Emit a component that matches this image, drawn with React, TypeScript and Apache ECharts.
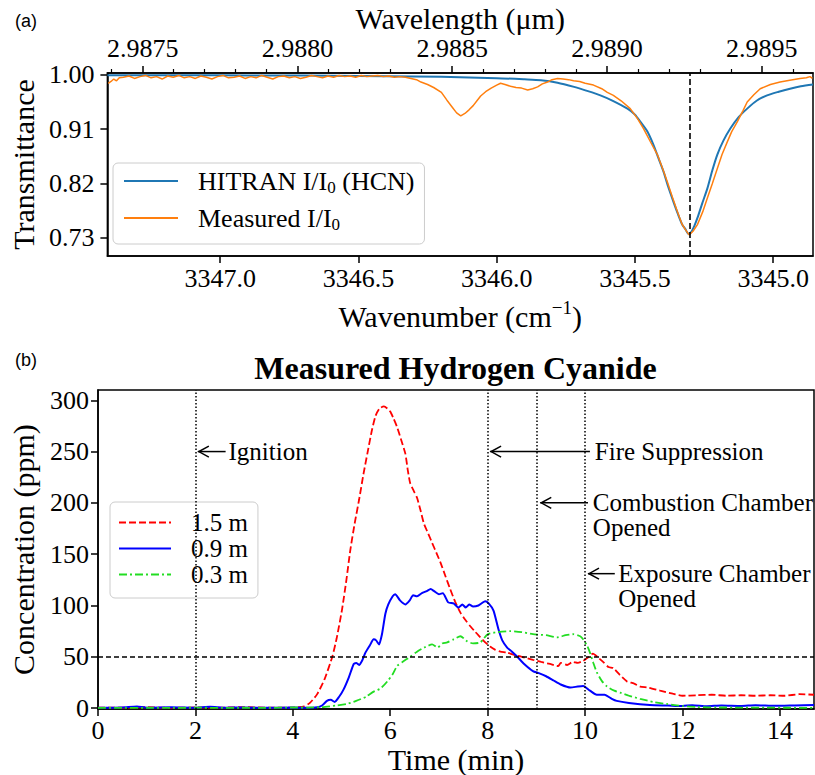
import React, { useEffect, useRef } from 'react';
import * as echarts from 'echarts';

const FONT = "'Liberation Serif', 'Times New Roman', Times, serif";
const SANS = "'Liberation Sans', Arial, sans-serif";

// ---------- Panel (a): transmittance ----------
const WN_MIN = 3344.856;
const WN_MAX = 3347.408;
const wnTicks = [3347.0, 3346.5, 3346.0, 3345.5, 3345.0];
const wlTicks = [2.9875, 2.988, 2.9885, 2.989, 2.9895];
const wlMinorTicks = [2.9874, 2.9876, 2.9877, 2.9878, 2.9879, 2.9881, 2.9882, 2.9883, 2.9884, 2.9886, 2.9887, 2.9888, 2.9889, 2.9891, 2.9892, 2.9893, 2.9894, 2.9896];
const transTicks = [0.73, 0.82, 0.91, 1.0];
const lineCenterWn = 3345.305;

const hitranWn = [3347.408, 3347.2, 3347.0, 3346.8, 3346.6, 3346.4, 3346.2, 3346.0, 3345.9, 3345.84, 3345.78, 3345.72, 3345.67, 3345.625, 3345.58, 3345.527, 3345.5, 3345.48, 3345.455, 3345.433, 3345.415, 3345.397, 3345.38, 3345.361, 3345.345, 3345.329, 3345.318, 3345.307, 3345.296, 3345.285, 3345.274, 3345.256, 3345.238, 3345.22, 3345.202, 3345.18, 3345.155, 3345.125, 3345.094, 3345.06, 3345.022, 3344.98, 3344.939, 3344.9, 3344.856];
const hitranT = [0.9994, 0.9993, 0.9991, 0.9989, 0.9985, 0.9978, 0.9967, 0.9945, 0.9925, 0.991, 0.987, 0.98, 0.973, 0.966, 0.957, 0.944, 0.934, 0.922, 0.906, 0.884, 0.862, 0.84, 0.815, 0.79, 0.77, 0.752, 0.745, 0.737, 0.74, 0.75, 0.763, 0.788, 0.812, 0.842, 0.868, 0.891, 0.911, 0.93, 0.944, 0.957, 0.966, 0.972, 0.977, 0.981, 0.984];

const measWn = [3347.405, 3347.395, 3347.385, 3347.375, 3347.365,
  3347.35, 3347.33, 3347.31, 3347.29, 3347.27, 3347.25, 3347.23, 3347.21, 3347.19, 3347.17,
  3347.15, 3347.13, 3347.11, 3347.09, 3347.07, 3347.05, 3347.03, 3347.01, 3346.99, 3346.97,
  3346.95, 3346.93, 3346.91, 3346.89, 3346.87, 3346.85, 3346.83, 3346.81, 3346.79, 3346.77,
  3346.75, 3346.73, 3346.71, 3346.69, 3346.67, 3346.65, 3346.63, 3346.61, 3346.59, 3346.57,
  3346.55, 3346.53, 3346.51, 3346.49, 3346.47, 3346.45, 3346.43, 3346.41, 3346.39, 3346.37, 3346.35,
  3346.33, 3346.31, 3346.29, 3346.274, 3346.25, 3346.228, 3346.2, 3346.18, 3346.16, 3346.145,
  3346.13, 3346.115, 3346.1, 3346.085, 3346.07, 3346.058, 3346.04, 3346.02, 3346.0, 3345.986,
  3345.97, 3345.95, 3345.93, 3345.91, 3345.888, 3345.87, 3345.852, 3345.835, 3345.816, 3345.8,
  3345.78, 3345.76, 3345.74, 3345.722, 3345.7, 3345.68, 3345.65, 3345.62, 3345.6, 3345.578,
  3345.55, 3345.517, 3345.49, 3345.469, 3345.445, 3345.419, 3345.4, 3345.383, 3345.365, 3345.347,
  3345.33, 3345.318, 3345.304, 3345.29, 3345.274, 3345.255, 3345.238, 3345.22, 3345.202, 3345.185,
  3345.166, 3345.15, 3345.13, 3345.11, 3345.094, 3345.07, 3345.047, 3345.01, 3344.975, 3344.94,
  3344.903, 3344.88, 3344.867, 3344.858];
const measT = [0.986, 0.989, 0.993, 0.99, 0.995,
  0.996, 0.998, 0.994, 0.997, 0.999, 0.995, 0.997, 0.993, 0.998, 0.996,
  0.999, 0.995, 0.997, 0.994, 0.998, 0.996, 0.993, 0.997, 0.999, 0.995,
  0.996, 0.998, 0.994, 0.997, 0.995, 0.999, 0.996, 0.993, 0.997, 0.998,
  0.995, 0.997, 0.994, 0.996, 0.999, 0.997, 0.995, 0.998, 0.996, 0.999,
  0.997, 0.998, 0.996, 0.999, 0.997, 0.998, 0.999, 0.997, 0.998, 0.996, 0.997,
  0.996, 0.994, 0.992, 0.988, 0.984, 0.979, 0.971, 0.958, 0.946, 0.937,
  0.932, 0.936, 0.942, 0.949, 0.958, 0.965, 0.972, 0.978, 0.983, 0.986,
  0.984, 0.981, 0.979, 0.978, 0.975, 0.977, 0.98, 0.985, 0.988, 0.992,
  0.994, 0.993, 0.992, 0.99, 0.989, 0.986, 0.983, 0.977, 0.971, 0.966,
  0.957, 0.944, 0.927, 0.911, 0.89, 0.868, 0.845, 0.823, 0.798, 0.774,
  0.753, 0.744, 0.735, 0.741, 0.752, 0.773, 0.796, 0.82, 0.845, 0.868,
  0.889, 0.906, 0.922, 0.94, 0.955, 0.967, 0.977, 0.984, 0.988, 0.991,
  0.994, 0.995, 0.997, 0.994];

// ---------- Panel (b): HCN concentration ----------
const timeTicks = [0, 2, 4, 6, 8, 10, 12, 14];
const concTicks = [0, 50, 100, 150, 200, 250, 300];
const eventTimes = [2, 8, 9, 10];
const threshold = 50;

const t15 = [0, 0.5, 1.0, 1.5, 2.0, 2.5, 3.0, 3.5, 4.0, 4.22, 4.35, 4.5, 4.65, 4.81, 4.9, 5.01, 5.1, 5.18, 5.27, 5.36, 5.45, 5.53, 5.62, 5.7, 5.78, 5.87, 5.94, 6.0, 6.07, 6.14, 6.22, 6.31, 6.36, 6.41, 6.48, 6.55, 6.62, 6.69, 6.78, 6.86, 6.95, 7.03, 7.13, 7.23, 7.33, 7.44, 7.54, 7.64, 7.75, 7.85, 7.95, 8.05, 8.15, 8.26, 8.4, 8.53, 8.7, 8.93, 9.1, 9.28, 9.45, 9.5, 9.63, 9.75, 9.85, 9.96, 10.08, 10.16, 10.25, 10.37, 10.48, 10.58, 10.7, 10.86, 11.0, 11.13, 11.3, 11.54, 11.8, 12.0, 12.3, 12.6, 12.9, 13.2, 13.5, 13.8, 14.1, 14.4, 14.7];
const c15 = [0.5, 0.3, 0.8, 0.2, 0.6, 0.4, 0.9, 0.3, 0.5, 1.5, 5, 13.6, 28, 50, 68, 96, 125, 154, 180, 203, 228, 248, 270, 285, 292, 294, 292, 289, 282, 274, 262, 248, 232, 219, 212, 205, 193, 180, 170, 161, 151, 142, 129, 116, 104, 93, 86, 80, 74, 69, 64, 60, 57, 55, 54, 52, 50, 47, 45, 43, 41, 44, 42, 45, 44, 46, 50, 53, 50, 45, 40, 39, 33, 26, 24, 21, 20, 17, 14, 12, 12.5, 13, 12, 12.5, 12, 12.5, 12, 13.5, 13];

const t09 = [0, 0.5, 0.8, 1.0, 1.5, 2.0, 2.3, 2.6, 3.0, 3.5, 4.0, 4.3, 4.5, 4.6, 4.7, 4.78, 4.86, 4.95, 5.04, 5.15, 5.25, 5.3, 5.36, 5.43, 5.49, 5.58, 5.66, 5.71, 5.77, 5.83, 5.9, 5.96, 6.05, 6.1, 6.2, 6.31, 6.4, 6.47, 6.55, 6.65, 6.75, 6.83, 6.9, 7.0, 7.08, 7.19, 7.3, 7.4, 7.48, 7.55, 7.62, 7.7, 7.81, 7.95, 8.02, 8.12, 8.22, 8.3, 8.4, 8.5, 8.61, 8.75, 8.93, 9.05, 9.2, 9.35, 9.5, 9.7, 9.85, 9.96, 10.1, 10.24, 10.4, 10.55, 10.65, 10.9, 11.33, 11.7, 12.0, 12.2, 12.5, 12.8, 13.2, 13.5, 13.9, 14.3, 14.7];
const c09 = [0.3, 0.6, 1.5, 0.4, 0.8, 0.3, 1.2, 0.3, 0.6, 0.2, 0.5, 0.2, 0.8, 2.5, 7, 8, 6, 11, 18, 30, 43, 44, 42, 47, 54, 61, 67, 66, 62, 72, 92, 101, 109, 111, 105, 101, 105, 110, 109, 112, 114, 116, 114, 111, 112, 103, 102, 98, 101, 98, 101, 99, 100, 104, 102, 95, 77, 66, 59, 55, 50, 43, 36, 34, 31, 27, 23, 20, 21, 21.5, 17, 13, 13, 9, 7, 5, 3, 2.5, 2, 2.8, 1.8, 2.5, 2, 2.8, 2.2, 2.6, 3];

const t03 = [0, 0.5, 1.0, 1.5, 2.0, 2.5, 3.0, 3.5, 4.0, 4.3, 4.6, 4.9, 5.11, 5.3, 5.5, 5.66, 5.8, 5.94, 6.05, 6.14, 6.25, 6.41, 6.55, 6.7, 6.86, 6.97, 7.07, 7.17, 7.3, 7.44, 7.58, 7.7, 7.85, 8.0, 8.2, 8.46, 8.7, 8.93, 9.2, 9.43, 9.6, 9.76, 9.9, 9.96, 10.05, 10.1, 10.17, 10.24, 10.35, 10.45, 10.6, 10.72, 10.9, 11.13, 11.4, 11.67, 12.0, 12.3, 12.7, 13.2, 13.7, 14.2, 14.7];
const c03 = [0.2, 0.1, 0.3, 0.1, 0.4, 0.2, 0.3, 0.2, 0.6, 0.5, 1, 2.5, 4, 7, 11, 16, 19, 26, 33, 41, 45, 50, 55, 59, 62, 59, 63, 64, 67, 70, 65, 63, 64, 72, 74, 75, 74, 72, 71, 69, 71, 72, 70, 67, 60, 54, 44, 35, 26, 21, 17, 15, 12, 9, 6, 4, 2, 1, 0.6, 0.5, 0.4, 0.3, 0.2];

const annotations = [
  { lines: ['Ignition'], tip: [2.05, 250], tail: [2.62, 250], text: [2.68, 250] },
  { lines: ['Fire Suppression'], tip: [8.05, 250], tail: [10.1, 250], text: [10.2, 250] },
  { lines: ['Combustion Chamber', 'Opened'], tip: [9.08, 200], tail: [10.06, 200], text: [10.16, 200] },
  { lines: ['Exposure Chamber', 'Opened'], tip: [10.06, 131], tail: [10.61, 131], text: [10.68, 131] },
];

const pairs = (xs: number[], ys: number[]) => xs.map((x, i) => [x, ys[i]]);

const tickStyle = { color: '#000', width: 1.5 };

export default function App() {
  const ref = useRef<HTMLDivElement>(null);
  useEffect(() => {
    if (!ref.current) return;
    const chart = echarts.init(ref.current, null, { renderer: 'svg' });
    const WL_MIN = 1e4 / WN_MAX;
    const WL_MAX = 1e4 / WN_MIN;

    const legendCommon = {
      orient: 'vertical', itemHeight: 2, selectedMode: false,
      backgroundColor: 'rgba(255,255,255,0.8)', borderColor: '#cccccc', borderWidth: 1, borderRadius: 5,
      itemStyle: { opacity: 0, borderWidth: 0 },
    };
    const axisLbl = (values: number[], digits: number | null, margin: number) => ({
      customValues: values, margin,
      formatter: (v: number) => (digits === null ? String(v) : v.toFixed(digits)),
      fontSize: 26, fontFamily: FONT, color: '#000',
    });

    const option: any = {
      animation: false,
      textStyle: { fontFamily: FONT },
      grid: [
        { left: 106, top: 73, width: 707, height: 183, show: true, borderColor: '#000', borderWidth: 1.5 },
        { left: 97, top: 390, width: 717, height: 320, show: true, borderColor: '#000', borderWidth: 1.5 },
      ],
      xAxis: [
        {
          type: 'value', gridIndex: 0, position: 'bottom', inverse: true, min: WN_MIN, max: WN_MAX,
          splitLine: { show: false },
          axisLine: { onZero: false, lineStyle: tickStyle },
          axisTick: { customValues: wnTicks, length: 7, lineStyle: tickStyle },
          axisLabel: axisLbl(wnTicks, 1, 9),
          name: '{a|Wavenumber (cm}{s|−1}{a|)}', nameLocation: 'middle', nameGap: 42,
          nameTextStyle: {
            rich: {
              a: { fontSize: 30, fontFamily: FONT, color: '#000', lineHeight: 36 },
              s: { fontSize: 19, fontFamily: FONT, color: '#000', lineHeight: 14, verticalAlign: 'top' },
            },
          },
        },
        {
          type: 'value', gridIndex: 0, position: 'top', min: WL_MIN, max: WL_MAX,
          splitLine: { show: false },
          axisLine: { onZero: false, lineStyle: tickStyle },
          axisTick: { customValues: wlTicks, length: 7, lineStyle: tickStyle },
          axisLabel: axisLbl(wlTicks, 4, 12),
          name: 'Wavelength (μm)', nameLocation: 'middle', nameGap: 40,
          nameTextStyle: { fontSize: 30, fontFamily: FONT, color: '#000' },
        },
        {
          type: 'value', gridIndex: 0, position: 'top', min: WL_MIN, max: WL_MAX,
          splitLine: { show: false },
          axisLine: { show: false },
          axisTick: { customValues: wlMinorTicks, length: 4, lineStyle: { color: '#000', width: 1.2 } },
          axisLabel: { show: false },
        },
        {
          type: 'value', gridIndex: 1, position: 'bottom', min: 0, max: 14.7,
          splitLine: { show: false },
          axisLine: { onZero: false, lineStyle: tickStyle },
          axisTick: { customValues: timeTicks, length: 7, lineStyle: tickStyle },
          axisLabel: axisLbl(timeTicks, null, 8),
          name: 'Time (min)', nameLocation: 'middle', nameGap: 31,
          nameTextStyle: { fontSize: 30, fontFamily: FONT, color: '#000' },
        },
      ],
      yAxis: [
        {
          type: 'value', gridIndex: 0, min: 0.7, max: 1.003,
          splitLine: { show: false },
          axisLine: { onZero: false, lineStyle: tickStyle },
          axisTick: { customValues: transTicks, length: 7, lineStyle: tickStyle },
          axisLabel: axisLbl(transTicks, 2, 13),
          name: 'Transmittance', nameLocation: 'middle', nameGap: 68,
          nameTextStyle: { fontSize: 30, fontFamily: FONT, color: '#000' },
        },
        {
          type: 'value', gridIndex: 1, min: -1, max: 310,
          splitLine: { show: false },
          axisLine: { onZero: false, lineStyle: tickStyle },
          axisTick: { customValues: concTicks, length: 7, lineStyle: tickStyle },
          axisLabel: axisLbl(concTicks, null, 9),
          name: 'Concentration (ppm)', nameLocation: 'middle', nameGap: 60,
          nameTextStyle: { fontSize: 30, fontFamily: FONT, color: '#000' },
        },
      ],
      legend: [
        {
          ...legendCommon,
          data: ['HITRAN', 'Measured'], left: 113, top: 163,
          itemWidth: 54, itemGap: 9, padding: [5, 10, 11, 10],
          formatter: (n: string) => n === 'HITRAN' ? '{g|}{a|HITRAN I/I}{s|0}{a| (HCN)}' : '{g|}{a|Measured I/I}{s|0}',
          textStyle: {
            fontFamily: FONT, fontSize: 26, color: '#000',
            rich: {
              g: { width: 15, lineHeight: 30 },
              a: { fontSize: 26, fontFamily: FONT, color: '#000', lineHeight: 30 },
              s: { fontSize: 17, fontFamily: FONT, color: '#000', lineHeight: 13, verticalAlign: 'bottom' },
            },
          },
        },
        {
          ...legendCommon,
          data: ['1.5 m', '0.9 m', '0.3 m'], left: 110, top: 502,
          itemWidth: 52, itemGap: 1, padding: [8, 10, 11, 8],
          formatter: (n: string) => '{g|}{a|' + n + '}',
          textStyle: {
            fontFamily: FONT, fontSize: 25, color: '#000',
            rich: {
              g: { width: 15, lineHeight: 25.5 },
              a: { fontSize: 25, fontFamily: FONT, color: '#000', lineHeight: 25.5 },
            },
          },
        },
      ],
      series: [
        {
          type: 'line', name: 'HITRAN', xAxisIndex: 0, yAxisIndex: 0, data: pairs(hitranWn, hitranT),
          symbol: 'none', showSymbol: false, smooth: 0.25,
          lineStyle: { color: '#1f77b4', width: 2 }, itemStyle: { color: '#1f77b4' },
          markLine: {
            silent: true, symbol: ['none', 'none'], label: { show: false },
            lineStyle: { color: '#000', width: 1.6, type: [6, 3] },
            data: [{ xAxis: lineCenterWn }],
          },
        },
        {
          type: 'line', name: 'Measured', xAxisIndex: 0, yAxisIndex: 0, data: pairs(measWn, measT),
          symbol: 'none', showSymbol: false,
          lineStyle: { color: '#ff7f0e', width: 1.5 }, itemStyle: { color: '#ff7f0e' },
        },
        {
          type: 'line', name: '1.5 m', xAxisIndex: 3, yAxisIndex: 1, data: pairs(t15, c15),
          symbol: 'none', showSymbol: false, smooth: 0.2,
          lineStyle: { color: '#ff0000', width: 1.8, type: [7, 3] }, itemStyle: { color: '#ff0000' },
          markLine: {
            silent: true, symbol: ['none', 'none'], label: { show: false },
            data: [
              ...eventTimes.map((t) => ({ xAxis: t, lineStyle: { color: '#000', width: 1.5, type: [1.5, 2] } })),
              { yAxis: threshold, lineStyle: { color: '#000', width: 1.5, type: [5, 3] } },
            ],
          },
        },
        {
          type: 'line', name: '0.9 m', xAxisIndex: 3, yAxisIndex: 1, data: pairs(t09, c09),
          symbol: 'none', showSymbol: false, smooth: 0.2,
          lineStyle: { color: '#0000ff', width: 2 }, itemStyle: { color: '#0000ff' },
        },
        {
          type: 'line', name: '0.3 m', xAxisIndex: 3, yAxisIndex: 1, data: pairs(t03, c03),
          symbol: 'none', showSymbol: false, smooth: 0.2,
          lineStyle: { color: '#22dd22', width: 1.8, type: [8, 3, 2, 3] }, itemStyle: { color: '#22dd22' },
        },
      ],
    };
    chart.setOption(option);

    const toPx = (p: number[]) => chart.convertToPixel({ xAxisIndex: 3, yAxisIndex: 1 } as any, p) as number[];
    const elements: any[] = [
      { type: 'text', x: 15, y: 21, style: { text: '(a)', font: `18px ${SANS}`, fill: '#000', verticalAlign: 'middle' } },
      { type: 'text', x: 15, y: 360, style: { text: '(b)', font: `18px ${SANS}`, fill: '#000', verticalAlign: 'middle' } },
      { type: 'text', x: 455.5, y: 368, style: { text: 'Measured Hydrogen Cyanide', font: `bold 32px ${FONT}`, fill: '#000', align: 'center', verticalAlign: 'middle' } },
    ];
    annotations.forEach((a) => {
      const tip = toPx(a.tip);
      const tail = toPx(a.tail);
      const txt = toPx(a.text);
      elements.push({ type: 'line', shape: { x1: tip[0], y1: tip[1], x2: tail[0], y2: tail[1] }, style: { stroke: '#000', lineWidth: 1.5 } });
      elements.push({ type: 'polyline', shape: { points: [[tip[0] + 11, tip[1] - 5.5], [tip[0] + 1, tip[1]], [tip[0] + 11, tip[1] + 5.5]] }, style: { stroke: '#000', lineWidth: 1.5, fill: null } });
      a.lines.forEach((ln, i) => {
        elements.push({ type: 'text', x: txt[0], y: txt[1] + i * 25, style: { text: ln, font: `25px ${FONT}`, fill: '#000', align: 'left', verticalAlign: 'middle' } });
      });
    });
    chart.setOption({ graphic: elements });

    return () => chart.dispose();
  }, []);

  return <div ref={ref} style={{ position: 'absolute', left: 0, top: 0, width: 815, height: 775, background: '#fff' }} />;
}
